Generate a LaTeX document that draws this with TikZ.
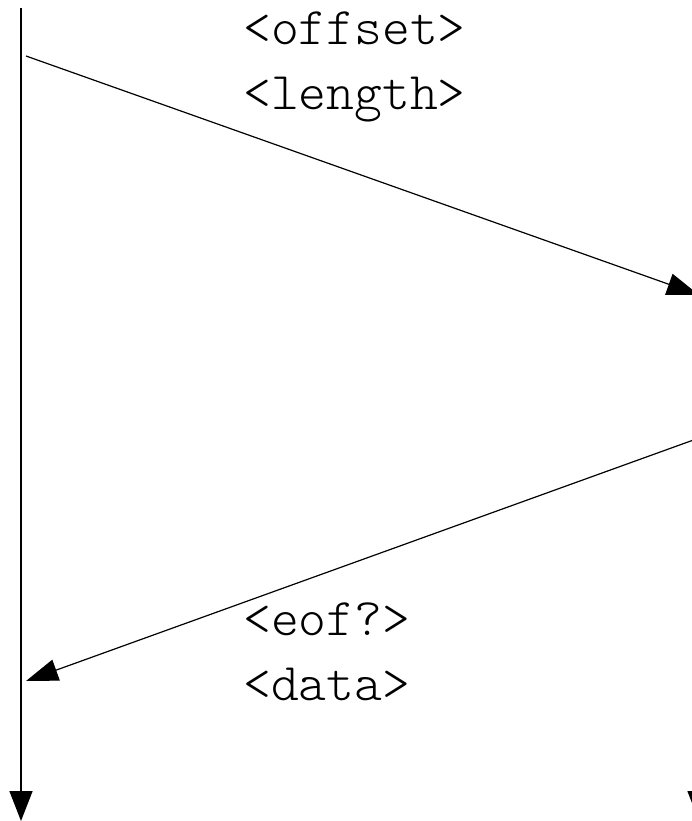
\documentclass[tikz,border=0pt]{standalone}
\usepackage{xcolor}
\usepackage{fontspec}
\setmonofont{Latin Modern Mono Light}
\usepackage{tikz}
\usetikzlibrary{arrows.meta}

\begin{document}
\begin{tikzpicture}[x=1pt,y=-1pt, every node/.style={font=\ttfamily\fontsize{53}{58}\selectfont, inner sep=0pt},
    msgline/.style={-{Triangle[length=32pt,width=22pt]}, line width=1.2pt},
    lifeline/.style={-{Triangle[length=30pt,width=23pt]}, line width=1.5pt}]
  \useasboundingbox (0,0) rectangle (691,821);
  % the two time lines
  \coordinate (cliTop) at (21,8);
  \coordinate (cliEnd) at (21,821);
  \coordinate (srvTop) at (699,8);
  \coordinate (srvEnd) at (699,821);
  \draw[lifeline] (cliTop) -- (cliEnd);
  \draw[lifeline] (srvTop) -- (srvEnd);
  % request
  \coordinate (reqFrom) at (26,56);
  \coordinate (reqTo) at (699,295);
  \draw[msgline] (reqFrom) -- (reqTo);
  \node[anchor=base west] (offset) at (243,45) {<offset>};
  \node[anchor=base west] (length) at (243,110) {<length>};
  % reply
  \coordinate (repFrom) at (699,438);
  \coordinate (repTo) at (26,681);
  \draw[msgline] (repFrom) -- (repTo);
  \node[anchor=base west] (eof) at (243,635) {<eof?>};
  \node[anchor=base west] (data) at (243,700) {<data>};
\end{tikzpicture}
\end{document}
